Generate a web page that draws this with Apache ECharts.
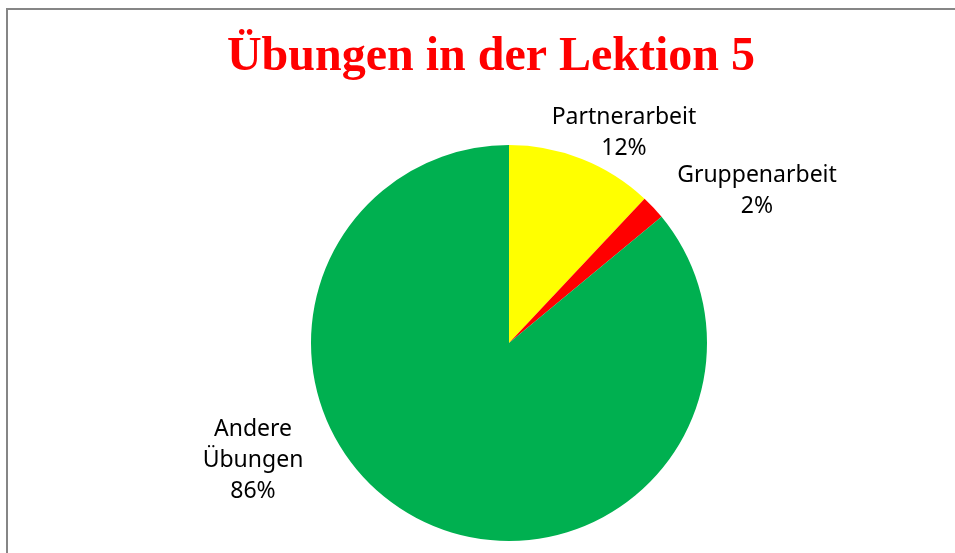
<!DOCTYPE html>
<html>
<head>
<meta charset="utf-8">
<script src="https://cdn.jsdelivr.net/npm/echarts@6/dist/echarts.min.js"></script>
<style>html,body{margin:0;padding:0;background:#fff}#c{width:955px;height:553px}</style>
</head>
<body>
<div id="c"></div>
<script>
const categories = ['Partnerarbeit', 'Gruppenarbeit', 'Andere\nÜbungen'];
const values = [12, 2, 86];
const colors = ['#FFFF00', '#FF0000', '#00B050'];
const labelPos = [[624, 133], [757, 191], [253, 460]];

const chart = echarts.init(document.getElementById('c'), null, {renderer: 'canvas'});
chart.setOption({
  animation: false,
  backgroundColor: '#ffffff',
  graphic: [{
    type: 'rect', silent: true,
    shape: {x: 7, y: 9, width: 1000, height: 600},
    style: {fill: 'none', stroke: '#868686', lineWidth: 2}
  }],
  title: {
    text: 'Übungen in der Lektion 5',
    left: 486, top: 29, textAlign: 'center',
    textStyle: {fontFamily: 'Liberation Serif', fontWeight: 'bold', fontSize: 48, color: '#FF0000'}
  },
  series: [{
    type: 'pie',
    center: [509, 343],
    radius: 198,
    startAngle: 90,
    clockwise: true,
    data: categories.map((c, i) => ({name: c, value: values[i], itemStyle: {color: colors[i]}})),
    itemStyle: {borderWidth: 0},
    label: {
      show: true,
      position: 'outside',
      formatter: p => p.name + '\n' + Math.round(p.percent) + '%',
      fontFamily: 'Noto Sans', fontSize: 23, lineHeight: 31, color: '#000', align: 'center'
    },
    labelLine: {show: false},
    labelLayout: p => ({x: labelPos[p.dataIndex][0], y: labelPos[p.dataIndex][1], align: 'center', verticalAlign: 'middle'}),
    emphasis: {disabled: true}
  }]
});
</script>
</body>
</html>
